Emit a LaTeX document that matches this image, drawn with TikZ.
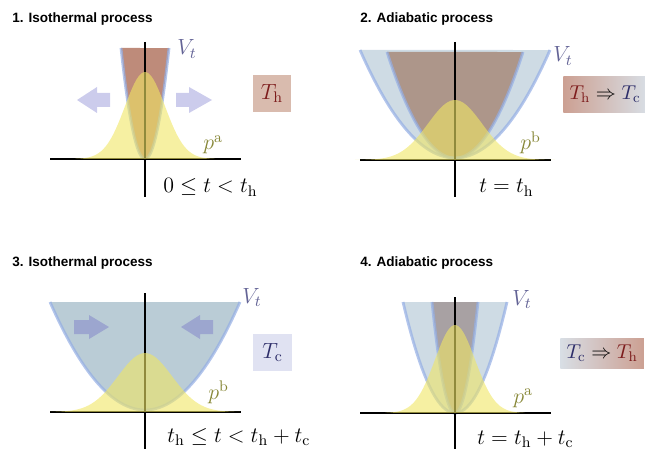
\documentclass[tikz,border=0pt]{standalone}
\usepackage{fix-cm}
\usepackage{xcolor}
\usepackage{tikz}
\usepackage{amsmath}
\usepackage{fontspec}
\setsansfont{Liberation Sans}

\definecolor{hotfill}{RGB}{190,139,122}
\definecolor{hotinner}{RGB}{173,150,138}
\definecolor{greyinner}{RGB}{168,161,163}
\definecolor{coldfill}{RGB}{186,204,214}
\definecolor{coldlight}{RGB}{206,219,228}
\definecolor{wallline}{RGB}{148,174,228}
\definecolor{gaussfill}{RGB}{240,230,100}
\definecolor{vlabel}{RGB}{100,100,150}
\definecolor{plabel}{RGB}{135,135,55}
\definecolor{hottext}{RGB}{125,28,28}
\definecolor{coldtext}{RGB}{45,45,105}
\definecolor{hotbox}{RGB}{217,187,174}
\definecolor{coldbox}{RGB}{224,226,242}
\definecolor{hotshade}{RGB}{204,160,146}
\definecolor{coldshade}{RGB}{216,222,229}
\definecolor{pushlight}{RGB}{204,204,236}
\definecolor{pushdark}{RGB}{156,166,207}

\begin{document}
\begin{tikzpicture}[x=0.02cm, y=-0.02cm]
\tikzstyle{paneltitle} = [anchor=base west, inner sep=0pt, font=\sffamily\bfseries\fontsize{7.7}{9}\selectfont]
\tikzstyle{mathtext} = [anchor=base west, inner sep=0pt, font=\fontsize{12.5}{15}\selectfont]
\tikzstyle{axisline} = [line width=1.1pt, black]
\tikzstyle{wall} = [line width=1.6pt, wallline, opacity=0.7]
\tikzstyle{gauss} = [fill=gaussfill, opacity=0.6]
\tikzstyle{bath} = [minimum height=0.74cm, inner xsep=3.5pt, font=\fontsize{11.4}{14}\selectfont]

\useasboundingbox (0,0) rectangle (645,449);

% 1. isothermal expansion
\fill[hotfill] plot[domain=-24:24, samples=40] ({145+\x},{159-111*(\x/24)*(\x/24)}) -- cycle;
\draw[wall] plot[domain=-24:24, samples=40] ({145+\x},{159-111*(\x/24)*(\x/24)});
\fill[pushlight] (77,100) -- (97,87) -- (97,93) -- (110,93) -- (110,107) -- (97,107) -- (97,113) -- cycle;
\fill[pushlight] (212,100) -- (189,87) -- (189,93) -- (176,93) -- (176,107) -- (189,107) -- (189,113) -- cycle;
\draw[axisline] (50,159) -- (241,159);
\draw[axisline] (145,42) -- (145,197);
\fill[gauss] plot[domain=-70:70, samples=60] ({145+\x},{159-87*exp(-(\x/20)*(\x/20)/2)}) -- cycle;
\node (title1) [paneltitle] at (12,23) {1. Isothermal process};
\node (pot1) [mathtext, text=vlabel] at (177,55) {$V_t$};
\node (dist1) [mathtext, text=plabel] at (203,150) {$p^\mathrm{a}$};
\node (bath1) [bath, fill=hotbox, minimum width=0.76cm, text=hottext, font=\fontsize{12.5}{15}\selectfont] at (272,93.5) {$T_\mathrm{h}$};
\node (time1) [mathtext] at (163,193) {$0 \le t < t_\mathrm{h}$};

% 2. adiabatic expansion
\fill[coldlight] plot[domain=-95:95, samples=60] ({455+\x},{158-108*(\x/95)*(\x/95)}) -- cycle;
\fill[hotinner] plot[domain=-68:68, samples=60] ({455+\x},{158-106*(\x/68)*(\x/68)}) -- cycle;
\draw[wall] plot[domain=-95:95, samples=60] ({455+\x},{158-108*(\x/95)*(\x/95)});
\draw[wall] plot[domain=-68:68, samples=60] ({455+\x},{158-106*(\x/68)*(\x/68)});
\draw[axisline] (360,160) -- (551,160);
\draw[axisline] (455,42) -- (455,197);
\fill[gauss] plot[domain=-100:100, samples=60] ({455+\x},{160-60*exp(-(\x/27)*(\x/27)/2)}) -- cycle;
\node (title2) [paneltitle] at (360,23) {2. Adiabatic process};
\node (pot2) [mathtext, text=vlabel] at (553,62) {$V_t$};
\node (dist2) [mathtext, text=plabel] at (520,150) {$p^\mathrm{b}$};
\node (bath2) [bath, anchor=west, left color=hotshade, right color=coldshade] at (563,94.5)
  {$\textcolor{hottext}{T_\mathrm{h}} \Rightarrow \textcolor{coldtext}{T_\mathrm{c}}$};
\node (time2) [mathtext] at (479,193) {$t = t_\mathrm{h}$};

% 3. isothermal compression
\fill[coldfill] plot[domain=-95:95, samples=60] ({145+\x},{410-108*(\x/95)*(\x/95)}) -- cycle;
\draw[wall] plot[domain=-95:95, samples=60] ({145+\x},{410-108*(\x/95)*(\x/95)});
\fill[pushdark] (109,327) -- (89,315) -- (89,320) -- (74,320) -- (74,334) -- (89,334) -- (89,339) -- cycle;
\fill[pushdark] (181,327) -- (200,315) -- (200,320) -- (213,320) -- (213,334) -- (200,334) -- (200,339) -- cycle;
\draw[axisline] (50,412) -- (241,412);
\draw[axisline] (145,293) -- (145,449);
\fill[gauss] plot[domain=-95:95, samples=60] ({145+\x},{412-59*exp(-(\x/27)*(\x/27)/2)}) -- cycle;
\node (title3) [paneltitle] at (12,266) {3. Isothermal process};
\node (pot3) [mathtext, text=vlabel] at (242,303) {$V_t$};
\node (dist3) [mathtext, text=plabel] at (208,399) {$p^\mathrm{b}$};
\node (bath3) [bath, fill=coldbox, minimum width=0.78cm, text=coldtext, font=\fontsize{12.5}{15}\selectfont] at (272.5,352.5) {$T_\mathrm{c}$};
\node (time3) [mathtext] at (167,442) {$t_\mathrm{h} \le t < t_\mathrm{h} + t_\mathrm{c}$};

% 4. adiabatic compression
\fill[coldlight] plot[domain=-52:52, samples=40] ({455+\x},{413-111*(\x/52)*(\x/52)}) -- cycle;
\fill[greyinner] plot[domain=-23:23, samples=40] ({455+\x},{413-111*(\x/23)*(\x/23)}) -- cycle;
\draw[wall] plot[domain=-52:52, samples=40] ({455+\x},{413-111*(\x/52)*(\x/52)});
\draw[wall] plot[domain=-23:23, samples=40] ({455+\x},{413-111*(\x/23)*(\x/23)});
\draw[axisline] (360,413) -- (551,413);
\draw[axisline] (455,297) -- (455,449);
\fill[gauss] plot[domain=-70:70, samples=60] ({455+\x},{413-88*exp(-(\x/20)*(\x/20)/2)}) -- cycle;
\node (title4) [paneltitle] at (360,266) {4. Adiabatic process};
\node (pot4) [mathtext, text=vlabel] at (512,305) {$V_t$};
\node (dist4) [mathtext, text=plabel] at (513,403) {$p^\mathrm{a}$};
\node (bath4) [bath, minimum height=0.6cm, anchor=west, left color=coldshade, right color=hotshade] at (560,353)
  {$\textcolor{coldtext}{T_\mathrm{c}} \Rightarrow \textcolor{hottext}{T_\mathrm{h}}$};
\node (time4) [mathtext] at (477,444) {$t = t_\mathrm{h} + t_\mathrm{c}$};
\end{tikzpicture}
\end{document}
